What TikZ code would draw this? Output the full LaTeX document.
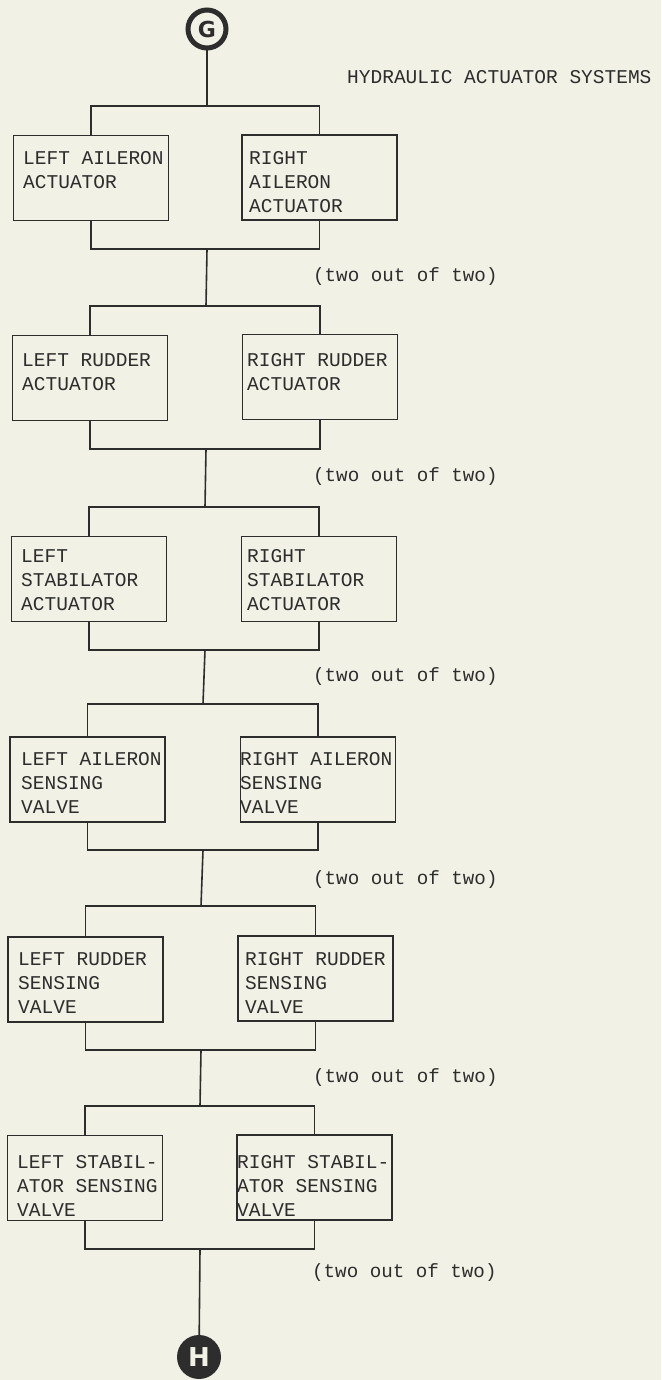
\documentclass[tikz,border=0pt]{standalone}
\usepackage{fontspec}
\setmonofont{Liberation Mono}
\newfontfamily\circfont{DejaVu Sans}
\definecolor{paper}{RGB}{241,241,229}
\definecolor{ink}{RGB}{45,45,45}
\tikzset{
  unitbox/.style={draw=ink, line width=1.8pt, rectangle, minimum width=155pt, minimum height=85pt, inner sep=0pt},
  boxtext/.style={anchor=north west, inner sep=0pt, align=left, text=ink, font=\ttfamily\fontsize{19.5}{24}\selectfont},
  vote/.style={anchor=west, inner sep=0pt, text=ink, font=\ttfamily\fontsize{19.2}{24}\selectfont},
  wire/.style={draw=ink, line width=1.6pt},
}
\begin{document}
\begin{tikzpicture}[x=1pt,y=-1pt]
\fill[paper] (0,0) rectangle (661,1380);
\useasboundingbox (0,0) rectangle (661,1380);

% connectors G and H
\node[circle, draw=ink, line width=5pt, minimum size=38pt, inner sep=0pt, text=ink, font=\circfont\bfseries\fontsize{22}{22}\selectfont] (G) at (207,29) {G};
\node[circle, fill=ink, minimum size=44pt, inner sep=0pt, text=paper, font=\circfont\bfseries\fontsize{26}{26}\selectfont] (H) at (199,1357) {H};

\node[anchor=base west, inner sep=0pt, text=ink, font=\ttfamily\fontsize{19.5}{24}\selectfont] (title) at (347,83.5) {HYDRAULIC ACTUATOR SYSTEMS};

% ---- block 1
\node[unitbox] (L1) at (91,178) {};
\node[unitbox] (R1) at (319.5,177.5) {};
\node[boxtext] (L1t) at (23,147.7) {\strut LEFT AILERON\\ACTUATOR};
\node[boxtext] (R1t) at (249,147.7) {\strut RIGHT\\AILERON\\ACTUATOR};
\coordinate (t1) at (207,106);
\coordinate (b1) at (207,249);
\node[vote] (v1) at (313,277) {(two out of two)};

% ---- block 2
\node[unitbox] (L2) at (90,378) {};
\node[unitbox] (R2) at (320,377) {};
\node[boxtext] (L2t) at (22,349.7) {\strut LEFT RUDDER\\ACTUATOR};
\node[boxtext] (R2t) at (247,349.7) {\strut RIGHT RUDDER\\ACTUATOR};
\coordinate (t2) at (206,306);
\coordinate (b2) at (206,449);
\node[vote] (v2) at (313,477) {(two out of two)};

% ---- block 3
\node[unitbox] (L3) at (89,579) {};
\node[unitbox] (R3) at (319,579) {};
\node[boxtext] (L3t) at (21,545.7) {\strut LEFT\\STABILATOR\\ACTUATOR};
\node[boxtext] (R3t) at (247,545.7) {\strut RIGHT\\STABILATOR\\ACTUATOR};
\coordinate (t3) at (205,507);
\coordinate (b3) at (205,650);
\node[vote] (v3) at (313,677) {(two out of two)};

% ---- block 4
\node[unitbox] (L4) at (87.5,779.5) {};
\node[unitbox] (R4) at (318,779.5) {};
\node[boxtext] (L4t) at (21,748.7) {\strut LEFT AILERON\\SENSING\\VALVE};
\node[boxtext] (R4t) at (240,748.7) {\strut RIGHT AILERON\\SENSING\\VALVE};
\coordinate (t4) at (203,704);
\coordinate (b4) at (203,850);
\node[vote] (v4) at (313,880) {(two out of two)};

% ---- block 5
\node[unitbox] (L5) at (85.5,979.5) {};
\node[unitbox] (R5) at (315.5,978.5) {};
\node[boxtext] (L5t) at (18,948.7) {\strut LEFT RUDDER\\SENSING\\VALVE};
\node[boxtext] (R5t) at (245,948.7) {\strut RIGHT RUDDER\\SENSING\\VALVE};
\coordinate (t5) at (201,906);
\coordinate (b5) at (201,1050);
\node[vote] (v5) at (313,1078) {(two out of two)};

% ---- block 6
\node[unitbox] (L6) at (85,1178) {};
\node[unitbox] (R6) at (314.5,1177.5) {};
\node[boxtext] (L6t) at (17,1151.7) {\strut LEFT STABIL-\\ATOR SENSING\\VALVE};
\node[boxtext] (R6t) at (237,1151.7) {\strut RIGHT STABIL-\\ATOR SENSING\\VALVE};
\coordinate (t6) at (200,1106);
\coordinate (b6) at (200,1249);
\node[vote] (v6) at (312,1273) {(two out of two)};

% ---- wiring
\draw[wire] (G) -- (t1);
\foreach \i in {1,...,6} {
  \draw[wire] (L\i.north) |- (t\i) -| (R\i.north);
  \draw[wire] (L\i.south) |- (b\i) -| (R\i.south);
}
\draw[wire] (b1) -- (t2);
\draw[wire] (b2) -- (t3);
\draw[wire] (b3) -- (t4);
\draw[wire] (b4) -- (t5);
\draw[wire] (b5) -- (t6);
\draw[wire] (b6) -- (H);
\end{tikzpicture}
\end{document}
